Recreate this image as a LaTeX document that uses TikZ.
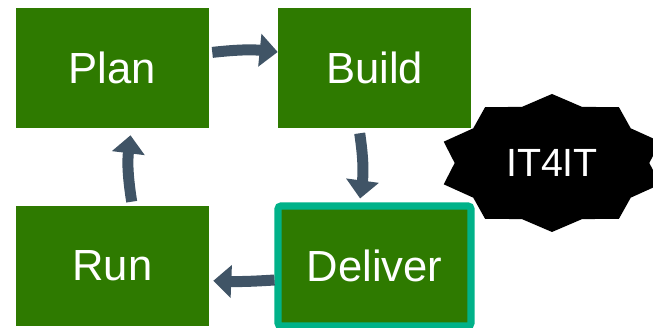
\documentclass[tikz,border=0pt]{standalone}
\usepackage{fontspec}
\setmainfont{Liberation Sans}
\usetikzlibrary{shapes,arrows.meta}
\definecolor{leaf}{RGB}{46,122,0}
\definecolor{rim}{RGB}{0,178,137}
\definecolor{slate}{RGB}{64,84,102}
\tikzset{stage/.style={rectangle,fill=leaf,text=white,minimum width=4.825cm,minimum height=3cm,inner sep=0pt,font=\fontsize{31}{36}\selectfont},
  flow/.style={line width=0.275cm,slate,-{Triangle[width=0.8cm,length=0.45cm]}}}
\newcommand{\stage}[3]{\node[stage] (#1) at (#2,#3) {#1};}
\newcommand{\stagehl}[3]{\node[stage,draw=rim,line width=5pt,rounded corners=2pt] (#1) at (#2,#3) {#1};}
\newcommand{\flow}[3]{\draw[flow] (#1) to[#3] (#2);}

\begin{document}
\begin{tikzpicture}
    \useasboundingbox (0,0) rectangle (16.325,8.2); \clip (0,0) rectangle (16.325,8.2);
    \node[star,star points=10,star point ratio=1.17,fill=black,minimum size=3.45cm,inner sep=0pt,xscale=1.65,transform shape] (burst) at (13.8,4.125) {};
    \node[text=white,font=\fontsize{28}{32}\selectfont] (it4it) at (burst) {IT4IT};
    \stage{Plan}{2.8125}{6.5}    \stage{Build}{9.3625}{6.5}
    \stage{Run}{2.8125}{1.55}    \stagehl{Deliver}{9.3625}{1.55}
    \flow{[xshift=0.075cm,yshift=0.39cm]Plan.east}{[yshift=0.4cm]Build.west}{bend left=6}
    \flow{[xshift=-0.37cm,yshift=-0.125cm]Build.south}{[xshift=-0.36cm,yshift=0.1cm]Deliver.north}{bend left=8}
    \flow{[yshift=-0.35cm]Deliver.west}{[xshift=0.1cm,yshift=-0.37cm]Run.east}{bend left=3}
    \flow{[xshift=0.48cm,yshift=0.1cm]Run.north}{[xshift=0.45cm,yshift=-0.175cm]Plan.south}{bend left=8}
\end{tikzpicture}
\end{document}
